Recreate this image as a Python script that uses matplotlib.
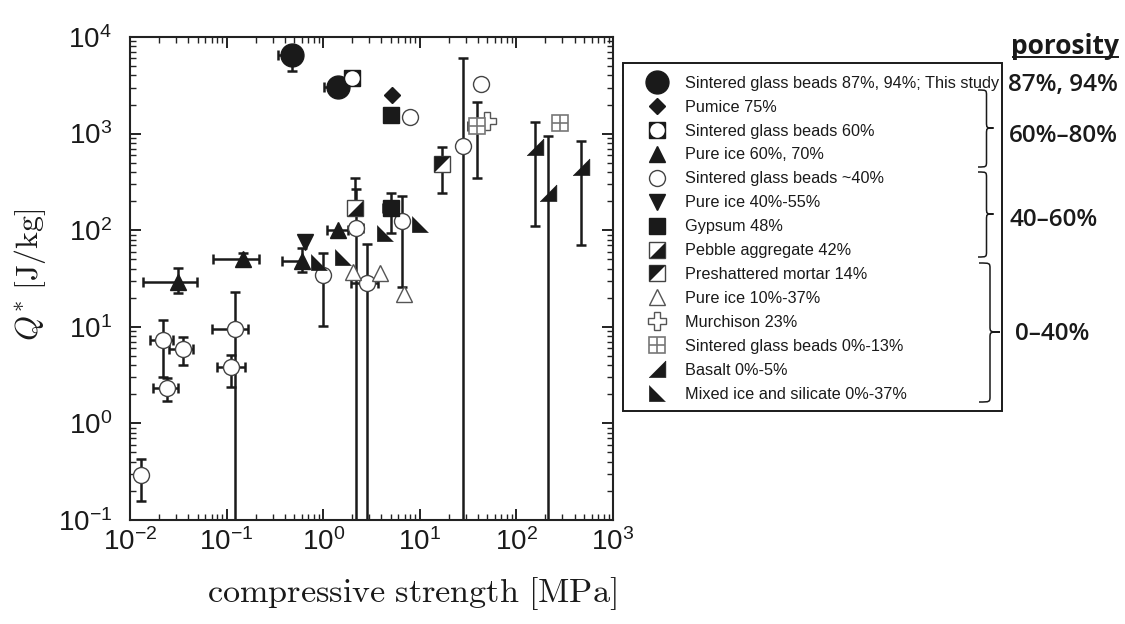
import matplotlib
matplotlib.use("Agg")
import matplotlib.pyplot as plt
import matplotlib.transforms as mtransforms
from matplotlib.path import Path
from matplotlib.patches import PathPatch, Rectangle
from matplotlib.lines import Line2D

plt.rcParams["font.family"] = ["Liberation Sans", "DejaVu Sans"]
plt.rcParams["mathtext.fontset"] = "cm"
plt.rcParams["axes.unicode_minus"] = False

# ---- data: compressive strength [MPa] vs Q* [J/kg] ----
# error bounds per point: (x_low, x_high, y_low, y_high), None = no bar
# 1e-3 as lower bound means the bar runs off the bottom of the axes

study_x = [0.475, 1.43]
study_y = [6500, 3010]
study_err = [(0.338, None, 4460, None), (1.02, None, None, None)]

pumice_x = [5.1]
pumice_y = [2510]

sgb60_x = [2.0]
sgb60_y = [3730]

ice_hi_x = [0.0316, 0.147, 0.60, 1.43]
ice_hi_y = [29.3, 50, 48, 100]
ice_hi_err = [(0.0137, 0.049, 22.2, 40.3), (0.0716, 0.218, 46, 57.7),
              (0.372, None, 37, 65.5), (1.10, 1.8, None, None)]

sgb40_x = [0.013, 0.0221, 0.0351, 0.024, 0.122, 0.111, 0.99, 2.82, 2.19,
           6.6, 7.9, 43, 28.2]
sgb40_y = [0.292, 7.3, 5.9, 2.31, 9.42, 3.81, 34.4, 28.7, 106,
           125, 1475, 3260, 745]
sgb40_err = [(None, None, 0.158, 0.425), (0.0161, 0.0281, 3.04, 11.7),
             (0.0255, 0.0452, 4.0, 7.8), (0.0172, 0.0316, 1.7, 2.95),
             (0.0702, 0.168, 1e-3, 23), (0.080, 0.155, 2.4, 5.1),
             (None, None, 10.3, 57.6), (1.92, 3.69, 1e-3, 72),
             (1.93, 2.58, 1e-3, 265), (None, None, 26, 228),
             (None, None, None, None), (None, None, None, None),
             (None, None, 1e-3, 6100)]

ice_mid_x = [0.65]
ice_mid_y = [76]

gypsum_x = [5.0, 5.0]
gypsum_y = [1560, 169]
gypsum_err = [(None, None, None, None), (4.17, None, 93, 241)]

pebble_x = [2.15]
pebble_y = [169]
pebble_err = [(None, None, None, 344)]

mortar_x = [17.1]
mortar_y = [484]
mortar_err = [(None, None, 245, 731)]

ice_lo_x = [2.05, 3.87, 6.9]
ice_lo_y = [37.2, 36.3, 21.9]

murchison_x = [50]
murchison_y = [1362]

sgb0_x = [39.3, 282]
sgb0_y = [1208, 1280]
sgb0_err = [(31.8, None, 349, 2110), (None, None, None, None)]

basalt_x = [156, 211, 463]
basalt_y = [722, 241, 454]
basalt_err = [(None, None, 110, 1328), (None, None, 1e-3, 944), (None, None, 71, 845)]

mixed_x = [10, 4.4, 1.61, 0.90]
mixed_y = [116, 93, 53, 47]

labels = [
    "Sintered glass beads 87%, 94%; This study",
    "Pumice 75%",
    "Sintered glass beads 60%",
    "Pure ice 60%, 70%",
    "Sintered glass beads ~40%",
    "Pure ice 40%-55%",
    "Gypsum 48%",
    "Pebble aggregate 42%",
    "Preshattered mortar 14%",
    "Pure ice 10%-37%",
    "Murchison 23%",
    "Sintered glass beads 0%-13%",
    "Basalt 0%-5%",
    "Mixed ice and silicate 0%-37%",
]

groups = ["87%, 94%", "60%\u201380%", "40\u201360%", "0\u201340%"]

# ---- figure ----
W, H = 1125, 624
fig = plt.figure(figsize=(W / 100, H / 100), dpi=100)
ax = fig.add_axes([130 / W, 1 - 520 / H, 483 / W, 483 / H])
ax.set_xscale("log")
ax.set_yscale("log")
ax.set_xlim(1e-2, 1e3)
ax.set_ylim(1e-1, 1e4)

INK = "#1a1a1a"


def draw_err(xs, ys, bounds, lw=1.8):
    for x, y, (xl, xh, yl, yh) in zip(xs, ys, bounds):
        if xl is not None or xh is not None:
            ax.errorbar([x], [y], xerr=[[x - (xl or x)], [(xh or x) - x]],
                        fmt="none", ecolor=INK, elinewidth=lw, capsize=3.6,
                        capthick=lw, zorder=2)
        if yl is not None or yh is not None:
            ax.errorbar([x], [y], yerr=[[y - (yl or y)], [(yh or y) - y]],
                        fmt="none", ecolor=INK, elinewidth=lw, capsize=3.6,
                        capthick=lw, zorder=2)


def pts(xs, ys, marker, ms, fc, ec, mew=1.0, z=3):
    return ax.plot(xs, ys, linestyle="none", marker=marker, ms=ms, mfc=fc,
                   mec=ec, mew=mew, zorder=z)[0]


tri_lr = [(1, -1), (1, 1), (-1, -1)]
tri_ll = [(-1, 1), (-1, -1), (1, -1)]
tri_ul = [(-1, -1), (-1, 1), (1, 1)]

draw_err(study_x, study_y, study_err)
draw_err(ice_hi_x, ice_hi_y, ice_hi_err)
draw_err(sgb40_x, sgb40_y, sgb40_err)
draw_err(gypsum_x, gypsum_y, gypsum_err)
draw_err(pebble_x, pebble_y, pebble_err)
draw_err(mortar_x, mortar_y, mortar_err)
draw_err(sgb0_x, sgb0_y, sgb0_err)
draw_err(basalt_x, basalt_y, basalt_err)

h_study = pts(study_x, study_y, "o", 16.5, INK, INK)
h_pumice = pts(pumice_x, pumice_y, "D", 8, INK, INK)
h_sgb60a = pts(sgb60_x, sgb60_y, "s", 11, INK, INK)
h_sgb60b = pts(sgb60_x, sgb60_y, "o", 10.5, "white", "none", z=4)
h_ice_hi = pts(ice_hi_x, ice_hi_y, "^", 11, INK, INK)
h_sgb40 = pts(sgb40_x, sgb40_y, "o", 11.5, "white", "#444444")
h_ice_mid = pts(ice_mid_x, ice_mid_y, "v", 11, INK, INK)
h_gypsum = pts(gypsum_x, gypsum_y, "s", 11, INK, INK)
h_pebble_a = pts(pebble_x, pebble_y, "s", 11, "white", "#444444")
h_pebble_b = pts(pebble_x, pebble_y, tri_lr, 11, INK, "none", z=4)
h_mortar_a = pts(mortar_x, mortar_y, "s", 11, "white", "#444444")
h_mortar_b = pts(mortar_x, mortar_y, tri_ul, 11, INK, "none", z=4)
h_ice_lo = pts(ice_lo_x, ice_lo_y, "^", 11, "white", "#555555")
h_murch = pts(murchison_x, murchison_y, "P", 13, "white", "#555555")
h_sgb0a = pts(sgb0_x, sgb0_y, "s", 12, "white", "#777777", mew=1.2)
h_sgb0b = pts(sgb0_x, sgb0_y, "+", 12, "none", "#777777", mew=1.2, z=4)
h_basalt = pts(basalt_x, basalt_y, tri_lr, 12, INK, INK, mew=0.5)
h_mixed = pts(mixed_x, mixed_y, tri_ll, 12, INK, INK, mew=0.5)

# ---- axes styling ----
for s in ax.spines.values():
    s.set_linewidth(1.5)
    s.set_color("#222222")
ax.tick_params(which="both", direction="in", top=True, right=True,
               colors="#222222", labelcolor=INK)
ax.tick_params(which="major", length=8, width=1.4, labelsize=20, pad=6)
ax.tick_params(which="minor", length=4, width=1.0)
ax.tick_params(axis="y", which="major", pad=13)

ax.set_xlabel(r"$\mathrm{compressive\ strength\ [MPa]}$", fontsize=24.6, color=INK)
ax.xaxis.set_label_coords(0.584, -0.115)
ax.set_ylabel(r"$Q^{*}\ [\mathrm{J/kg}]$", fontsize=23, color=INK)
ax.yaxis.set_label_coords(-0.17, 0.507)

# ---- porosity groups on the right, in pixel coordinates ----
px = mtransforms.Affine2D().scale(1 / W, -1 / H).translate(0, 1) + fig.transFigure

# ---- legend (frame drawn separately) ----
handles = [h_study, h_pumice, (h_sgb60a, h_sgb60b), h_ice_hi, h_sgb40, h_ice_mid,
           h_gypsum, (h_pebble_a, h_pebble_b), (h_mortar_a, h_mortar_b), h_ice_lo,
           h_murch, (h_sgb0a, h_sgb0b), h_basalt, h_mixed]
leg = ax.legend(handles, labels, loc="upper left",
                bbox_to_anchor=(620 / W, 1 - 66.7 / H), bbox_transform=fig.transFigure,
                borderaxespad=0, fontsize=11.7, numpoints=1, handlelength=3.4,
                handletextpad=0.05, labelspacing=0.55, borderpad=0.55,
                frameon=False)
for t in leg.get_texts():
    t.set_color(INK)
fig.add_artist(Rectangle((623, 63), 379, 348, fc="none", ec=INK, lw=1.4,
                         transform=px))


def brace(top, bot, mid, x0, xv, xt, r=6):
    verts = [(x0, top), (xv, top), (xv, top), (xv, top + r),
             (xv, mid - r), (xv, mid), (xv, mid), (xt, mid),
             (xv, mid), (xv, mid), (xv, mid + r),
             (xv, bot - r), (xv, bot), (xv, bot), (x0, bot)]
    codes = [Path.MOVETO, Path.CURVE4, Path.CURVE4, Path.CURVE4,
             Path.LINETO, Path.CURVE4, Path.CURVE4, Path.CURVE4,
             Path.CURVE4, Path.CURVE4, Path.CURVE4,
             Path.LINETO, Path.CURVE4, Path.CURVE4, Path.CURVE4]
    fig.add_artist(PathPatch(Path(verts, codes), fc="none", ec=INK, lw=1.1,
                             transform=px))


brace(90, 167, 128, 978, 986.5, 993.5)
brace(172, 257, 214, 978, 986.5, 993.5)
brace(263, 402, 332, 979, 990, 1000)

gfont = dict(family=["Open Sans", "DejaVu Sans"], color=INK, transform=px)
fig.text(1065, 53.5, "porosity", fontsize=19, weight="bold", ha="center",
         va="baseline", **gfont)
fig.add_artist(Line2D([1013, 1118], [57, 57], color=INK, lw=1.4, transform=px))
fig.text(1008, 90.5, groups[0], fontsize=17.5, weight="semibold", va="baseline", **gfont)
fig.text(1009, 141.5, groups[1], fontsize=17.5, weight="semibold", va="baseline", **gfont)
fig.text(1009, 226.5, groups[2], fontsize=17.5, weight="semibold", va="baseline", **gfont)
fig.text(1015, 340, groups[3], fontsize=17.5, weight="semibold", va="baseline", **gfont)

fig.savefig("out.png", dpi=100)
